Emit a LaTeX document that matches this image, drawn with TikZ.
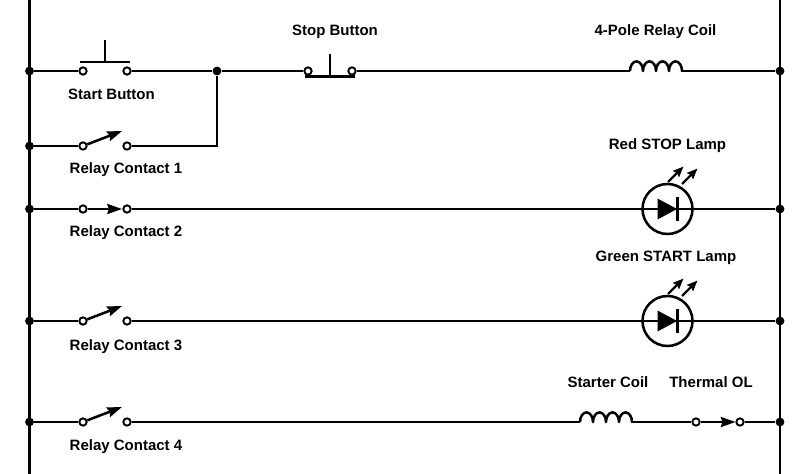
\documentclass[tikz,border=0pt]{standalone}
\usepackage{fontspec}
\setmainfont{Liberation Sans}
\usetikzlibrary{arrows.meta}
\tikzset{
  x=0.75pt,y=-0.75pt,
  wire/.style={line width=2.15pt},
  thin wire/.style={line width=1.9pt},
  term/.style={circle,draw=black,fill=white,line width=1.45pt,inner sep=0pt,minimum size=5.5pt},
  junc/.style={circle,fill=black,inner sep=0pt,minimum size=6.6pt},
  lbl/.style={font=\fontsize{11.25pt}{13pt}\selectfont\bfseries,inner sep=0pt,anchor=center},
  lamp/.style={circle,draw=black,line width=1.9pt,inner sep=0pt,minimum size=37.5pt},
  blade/.style={line width=1.9pt,-{Stealth[length=11pt,width=7.5pt,inset=1.2pt]}},
  led/.style={line width=1.6pt,-{Stealth[length=8pt,width=6.5pt,inset=1.2pt]}},
  coilp/.style={line width=1.9pt,line join=round},
}
\newcommand{\coilpath}[1]{%
  \draw[coilp] (#1) arc[start angle=180,end angle=0,x radius=4.875pt,y radius=7.2pt]
    arc[start angle=180,end angle=0,x radius=4.875pt,y radius=7.2pt]
    arc[start angle=180,end angle=0,x radius=4.875pt,y radius=7.2pt]
    arc[start angle=180,end angle=0,x radius=4.875pt,y radius=7.2pt];}
\newcommand{\lampsym}[1]{%
  \fill (#1) ++(-10,-10.5) -- ++(19.5,10.5) -- ++(-19.5,10.5) -- cycle;
  \draw[line width=1.8pt] (#1) ++(10,-12) -- ++(0,24);
  \draw[led] (#1) ++(0.5,-27) -- ++(15.5,-15.5);
  \draw[led] (#1) ++(14.5,-25) -- ++(15.5,-15.5);}
\begin{document}
\begin{tikzpicture}
\useasboundingbox (0,0) rectangle (800,474);
% rails
\coordinate (LT) at (29.5,0);  \coordinate (LB) at (29.5,474);
\coordinate (RT) at (780,0);   \coordinate (RB) at (780,474);
\draw[wire] (LT) -- (LB);
\draw[wire] (RT) -- (RB);
% junctions
\node[junc] (l1) at (29.5,71) {};
\node[junc] (l2) at (29.5,146) {};
\node[junc] (l3) at (29.5,209) {};
\node[junc] (l4) at (29.5,321) {};
\node[junc] (l5) at (29.5,422) {};
\node[junc] (r1) at (780,71) {};
\node[junc] (r3) at (780,209) {};
\node[junc] (r4) at (780,321) {};
\node[junc] (r5) at (780,422) {};
\node[junc] (j) at (217,71) {};
% coil anchors
\coordinate (c1a) at (630,71); \coordinate (c1b) at (681,71);
\coordinate (c2a) at (580,422); \coordinate (c2b) at (631,422);
% blade tips
\coordinate (k1t) at (122,131);
\coordinate (k2t) at (122,209);
\coordinate (k3t) at (122,306);
\coordinate (k4t) at (122,407);
\coordinate (ot) at (735.5,422);
% terminals
\node[term] (s1a) at (83,71) {};
\node[term] (s1b) at (127,71) {};
\node[term] (p1a) at (308,71) {};
\node[term] (p1b) at (352,71) {};
\node[term] (k1a) at (83,146) {};
\node[term] (k1b) at (127,146) {};
\node[term] (k2a) at (83,209) {};
\node[term] (k2b) at (127,209) {};
\node[term] (k3a) at (83,321) {};
\node[term] (k3b) at (127,321) {};
\node[term] (k4a) at (83,422) {};
\node[term] (k4b) at (127,422) {};
\node[term] (oa) at (696,422) {};
\node[term] (ob) at (740,422) {};
\node[lamp] (lamp1) at (667.5,209) {};
\node[lamp] (lamp2) at (667.5,321) {};
% wires
\draw[wire] (l1) -- (s1a);
\draw[wire] (s1b) -- (j) -- (p1a);
\draw[wire] (p1b) -- (c1a);
\draw[wire] (c1b) -- (r1);
\draw[wire] (l2) -- (k1a);
\draw[wire] (k1b) -| (j);
\draw[wire] (l3) -- (k2a);
\draw[wire] (k2b) -- (lamp1.center) -- (r3);
\draw[wire] (l4) -- (k3a);
\draw[wire] (k3b) -- (lamp2.center) -- (r4);
\draw[wire] (l5) -- (k4a);
\draw[wire] (k4b) -- (c2a);
\draw[wire] (c2b) -- (oa);
\draw[wire] (ob) -- (r5);
\coilpath{c1a}
\coilpath{c2a}
% push buttons
\draw[wire] (80,62) -- (130,62);
\draw[thin wire] (105,62) -- (105,40);
\draw[wire] (305,76.5) -- (355,76.5);
\draw[thin wire] (330,76.5) -- (330,54);
% contacts
\draw[blade] (k1a) -- (k1t);
\draw[blade] (k3a) -- (k3t);
\draw[blade] (k4a) -- (k4t);
\draw[blade] (k2a) -- (k2t);
\draw[blade] (oa) -- (ot);
% lamps
\lampsym{lamp1.center}
\lampsym{lamp2.center}
% labels
\node[lbl] (t1) at (111.5,94) {Start Button};
\node[lbl] (t2) at (335,32) {Stop Button};
\node[lbl] (t3) at (655.5,32) {4-Pole Relay Coil};
\node[lbl] (t4) at (126,170) {Relay Contact 1};
\node[lbl] (t5) at (126,232.5) {Relay Contact 2};
\node[lbl] (t6) at (667.5,146) {Red STOP Lamp};
\node[lbl] (t7) at (666,257.5) {Green START Lamp};
\node[lbl] (t8) at (126,346.5) {Relay Contact 3};
\node[lbl] (t9) at (126,446.5) {Relay Contact 4};
\node[lbl] (t10) at (608,382) {Starter Coil};
\node[lbl] (t11) at (711,382) {Thermal OL};
\end{tikzpicture}
\end{document}
